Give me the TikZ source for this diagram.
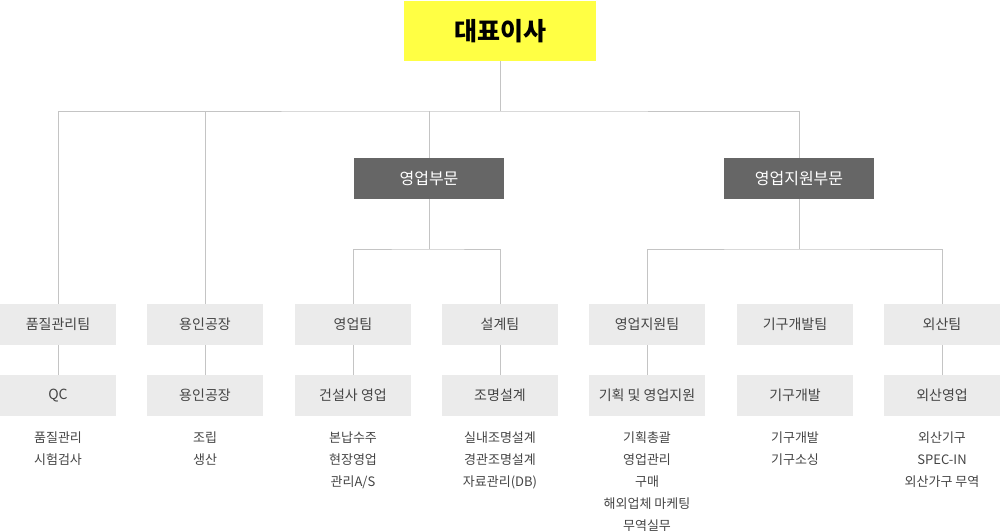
\documentclass[tikz,border=0pt]{standalone}
\usepackage{fontspec}
\setmainfont{Noto Sans CJK KR}
\definecolor{ceoyellow}{HTML}{FFFF44}
\definecolor{divgray}{HTML}{666666}
\definecolor{boxgray}{HTML}{EBEBEB}
\definecolor{linegray}{HTML}{C4C4C4}
\definecolor{txtgray}{HTML}{444444}
\tikzset{
  ceobox/.style={fill=ceoyellow, minimum width=192pt, minimum height=60pt, inner sep=0pt,
    font=\fontsize{25}{28}\selectfont\bfseries, text=black},
  divbox/.style={fill=divgray, minimum width=150pt, minimum height=41pt, inner sep=0pt,
    font=\fontsize{16}{20}\selectfont, text=white},
  teambox/.style={fill=boxgray, minimum width=116pt, minimum height=41pt, inner sep=0pt,
    font=\fontsize{14}{18}\selectfont, text=txtgray},
  items/.style={align=center, inner sep=0pt, anchor=north,
    font=\fontsize{13}{22}\selectfont, text=txtgray},
  conn/.style={draw=linegray, line width=1pt}
}
\begin{document}
\begin{tikzpicture}[x=1pt,y=-1pt]
\useasboundingbox (0,0) rectangle (1000,531);
% top
\node[ceobox] (ceo) at (500,31) {대표이사};
\node[divbox] (d1) at (429,178.5) {영업부문};
\node[divbox] (d2) at (799,178.5) {영업지원부문};
% teams
\node[teambox] (t1) at (58,324.5) {품질관리팀};
\node[teambox] (t2) at (205,324.5) {용인공장};
\node[teambox] (t3) at (353,324.5) {영업팀};
\node[teambox] (t4) at (500,324.5) {설계팀};
\node[teambox] (t5) at (647,324.5) {영업지원팀};
\node[teambox] (t6) at (795,324.5) {기구개발팀};
\node[teambox] (t7) at (942,324.5) {외산팀};
% sub units
\node[teambox] (s1) at (58,395.5) {QC};
\node[teambox] (s2) at (205,395.5) {용인공장};
\node[teambox] (s3) at (353,395.5) {건설사 영업};
\node[teambox] (s4) at (500,395.5) {조명설계};
\node[teambox] (s5) at (647,395.5) {기획 및 영업지원};
\node[teambox] (s6) at (795,395.5) {기구개발};
\node[teambox] (s7) at (942,395.5) {외산영업};
% item lists (first baseline near y=442)
\node[items] (i1) at (58,426.6) {\strut 품질관리\\시험검사};
\node[items] (i2) at (205,426.6) {\strut 조립\\생산};
\node[items] (i3) at (353,426.6) {\strut 본납수주\\현장영업\\관리A/S};
\node[items] (i4) at (500,426.6) {\strut 실내조명설계\\경관조명설계\\자료관리(DB)};
\node[items] (i5) at (647,426.6) {\strut 기획총괄\\영업관리\\구매\\해외업체 마케팅\\무역실무};
\node[items] (i6) at (795,426.6) {\strut 기구개발\\기구소싱};
\node[items] (i7) at (942,426.6) {\strut 외산기구\\SPEC-IN\\외산가구 무역};
% connectors
\coordinate (hub) at (500,111);
\coordinate (b1) at (429,249);
\coordinate (b2) at (799,249);
\draw[conn] (ceo.south) -- (hub);
\draw[conn] (t1.north) |- (hub) -| (d2.north);
\draw[conn] (t2.north) -- (t2.north |- hub);
\draw[conn] (d1.north) -- (d1.north |- hub);
\draw[conn] (d1.south) -- (b1);
\draw[conn] (t3.north) |- (b1) -| (t4.north);
\draw[conn] (d2.south) -- (b2);
\draw[conn] (t5.north) |- (b2) -| (t7.north);
\draw[conn] (t1.south) -- (s1.north);
\draw[conn] (t2.south) -- (s2.north);
\draw[conn] (t3.south) -- (s3.north);
\draw[conn] (t4.south) -- (s4.north);
\draw[conn] (t5.south) -- (s5.north);
\draw[conn] (t7.south) -- (s7.north);
\end{tikzpicture}
\end{document}
